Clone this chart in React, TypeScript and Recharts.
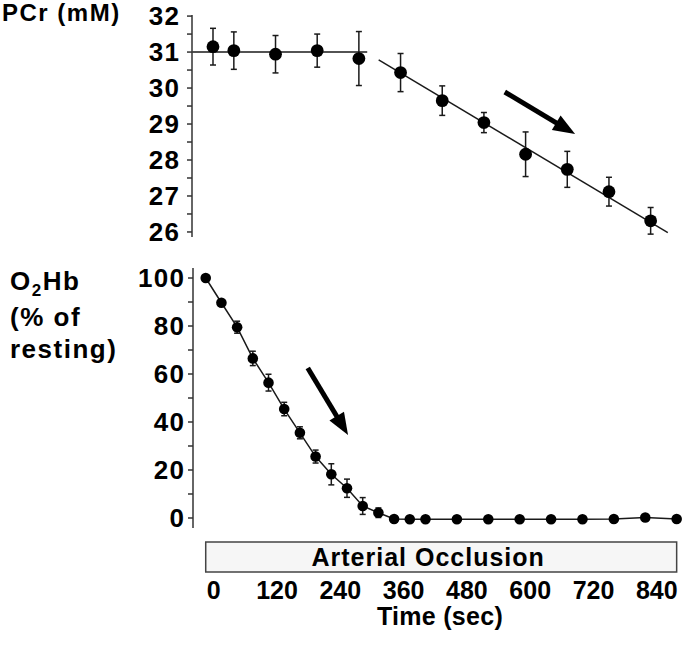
import React from 'react';
import {
  ComposedChart,
  Scatter,
  Line,
  XAxis,
  YAxis,
  ErrorBar,
  ReferenceLine,
  ReferenceArea,
} from 'recharts';

const FONT = '"Liberation Sans", Arial, Helvetica, sans-serif';
const AXIS = '#333';
const INK = '#1a1a1a';

// ---------- PCr panel (top) ----------
const pcrTimes = [0, 40, 120, 200, 280, 360, 440, 520, 600, 680, 760, 840];
const pcrValues = [31.15, 31.04, 30.94, 31.04, 30.82, 30.43, 29.65, 29.04, 28.16, 27.74, 27.12, 26.31];
const pcrErrors = [0.51, 0.52, 0.52, 0.46, 0.75, 0.53, 0.41, 0.28, 0.62, 0.5, 0.4, 0.37];
const pcrRestFitTimes = [-40, 296];
const pcrRestFitValues = [31, 31];
const pcrDeclineFitTimes = [318, 873];
const pcrDeclineFitValues = [30.78, 25.98];
const pcrTicks = [26, 26.5, 27, 27.5, 28, 28.5, 29, 29.5, 30, 30.5, 31, 31.5, 32];
const pcrArrowTimes = [560, 695];
const pcrArrowValues = [29.89, 28.72];
const PCR_X_DOMAIN: [number, number] = [-40.3, 900.2];
const PCR_Y_DOMAIN: [number, number] = [25.86, 32.03];

// ---------- O2Hb panel (bottom) ----------
const o2Times = [0, 30, 60, 90, 120, 150, 180, 210, 240, 270, 300, 330, 360, 390, 420, 480, 540, 600, 660, 720, 780, 840, 900];
const o2Values = [100, 89.7, 79.5, 66.5, 56.4, 45.4, 35.5, 25.6, 18.2, 12.4, 5.0, 2.2, -0.4, -0.5, -0.5, -0.5, -0.5, -0.5, -0.5, -0.5, -0.4, 0.2, -0.4];
const o2Errors = [0, 1, 2.5, 3, 3.5, 2.8, 2.5, 2.7, 4.4, 3.8, 3.5, 2, 0, 0, 0, 0, 0, 0, 0, 0, 0, 0, 0];
const o2Ticks = [0, 10, 20, 30, 40, 50, 60, 70, 80, 90, 100];
const o2ArrowTimes = [195, 272];
const o2ArrowValues = [62.5, 34.6];
const O2_X_DOMAIN: [number, number] = [-24.3, 910.2];
const O2_Y_DOMAIN: [number, number] = [-4.17, 104.17];
const timeTicks = [0, 120, 240, 360, 480, 600, 720, 840];
const TIME_LABEL_DOMAIN: [number, number] = [-39.2, 887.7];
const occlusionStart = 0;
const occlusionEnd = 900;
const occlusionBandValues = [-10, -22.5];

const pcrData = pcrTimes.map((t, i) => ({ t, v: pcrValues[i], e: pcrErrors[i] }));
const pcrRestFit = pcrRestFitTimes.map((t, i) => ({ t, v: pcrRestFitValues[i] }));
const pcrDeclineFit = pcrDeclineFitTimes.map((t, i) => ({ t, v: pcrDeclineFitValues[i] }));
const o2Data = o2Times.map((t, i) => ({ t, v: o2Values[i], e: o2Errors[i] }));

const Arrow = (props: any) => {
  const { x1, y1, x2, y2 } = props;
  const dx = x2 - x1;
  const dy = y2 - y1;
  const len = Math.hypot(dx, dy) || 1;
  const ux = dx / len;
  const uy = dy / len;
  const head = 22;
  const half = 8.5;
  const bx = x2 - ux * head;
  const by = y2 - uy * head;
  return (
    <g>
      <line x1={x1} y1={y1} x2={bx + ux * 3} y2={by + uy * 3} stroke="#000" strokeWidth={5} />
      <polygon
        points={`${x2},${y2} ${bx - uy * half},${by + ux * half} ${bx + uy * half},${by - ux * half}`}
        fill="#000"
      />
    </g>
  );
};

const labelStyle: React.CSSProperties = {
  fontFamily: FONT,
  fontWeight: 700,
  fontSize: 25,
  fill: '#000',
};

const yLabelStyle: React.CSSProperties = {
  ...labelStyle,
  fontSize: 26,
  letterSpacing: 1.3,
};

const PcrTick = (props: any) => {
  const { x, y, payload } = props;
  if (!Number.isInteger(payload.value)) return <g />;
  return (
    <text x={x + 1.3} y={y} dy={9.2} textAnchor="end" style={yLabelStyle}>
      {payload.value}
    </text>
  );
};

const O2Tick = (props: any) => {
  const { x, y, payload } = props;
  if (payload.value % 20 !== 0) return <g />;
  return (
    <text x={x + 1.3} y={y} dy={9.2} textAnchor="end" style={yLabelStyle}>
      {payload.value}
    </text>
  );
};

const TimeTick = (props: any) => {
  const { x, y, payload } = props;
  return (
    <text x={x} y={y} dy={41} textAnchor="middle" style={labelStyle}>
      {payload.value}
    </text>
  );
};

const Dot = (r: number) => (p: any) => <circle cx={p.cx} cy={p.cy} r={r} fill="#000" />;

const OcclusionLabel = (props: any) => {
  const vb = props.viewBox || {};
  return (
    <text
      x={vb.x + vb.width / 2 - 13}
      y={vb.y + vb.height / 2}
      dy={9}
      textAnchor="middle"
      style={{ ...labelStyle, letterSpacing: 1 }}
    >
      Arterial Occlusion
    </text>
  );
};

const titleBase: React.CSSProperties = {
  position: 'absolute',
  fontFamily: FONT,
  fontWeight: 700,
  color: '#000',
  whiteSpace: 'nowrap',
};

export default function App() {
  return (
    <div style={{ position: 'absolute', left: 0, top: 0, width: 685, height: 646, background: '#fff' }}>
      <div style={{ position: 'absolute', left: 0, top: 0 }}>
        <ComposedChart width={685} height={250} margin={{ top: 15, right: 3, bottom: 13, left: 0 }}>
          <XAxis dataKey="t" type="number" domain={PCR_X_DOMAIN} hide allowDataOverflow />
          <YAxis
            type="number"
            domain={PCR_Y_DOMAIN}
            ticks={pcrTicks}
            interval={0}
            width={192}
            tickSize={5}
            tickMargin={8}
            allowDataOverflow
            axisLine={{ stroke: AXIS, strokeWidth: 1.5 }}
            tickLine={{ stroke: AXIS, strokeWidth: 1.5 }}
            tick={<PcrTick />}
          />
          <Line data={pcrRestFit} dataKey="v" stroke={INK} strokeWidth={1.5} dot={false} isAnimationActive={false} />
          <Line data={pcrDeclineFit} dataKey="v" stroke={INK} strokeWidth={1.5} dot={false} isAnimationActive={false} />
          <Scatter data={pcrData} dataKey="v" shape={Dot(6.4)} isAnimationActive={false}>
            <ErrorBar dataKey="e" direction="y" width={3} stroke={INK} strokeWidth={1.5} isAnimationActive={false} />
          </Scatter>
          <ReferenceLine
            segment={[
              { x: pcrArrowTimes[0], y: pcrArrowValues[0] },
              { x: pcrArrowTimes[1], y: pcrArrowValues[1] },
            ]}
            ifOverflow="visible"
            shape={Arrow}
          />
        </ComposedChart>
      </div>

      <div style={{ position: 'absolute', left: 0, top: 250 }}>
        <ComposedChart width={685} height={396} margin={{ top: 18, right: 3, bottom: 0, left: 0 }}>
          <XAxis xAxisId="data" dataKey="t" type="number" domain={O2_X_DOMAIN} hide allowDataOverflow />
          <XAxis
            xAxisId="lab"
            dataKey="t"
            type="number"
            domain={TIME_LABEL_DOMAIN}
            ticks={timeTicks}
            interval={0}
            height={118}
            axisLine={false}
            tickLine={false}
            tickSize={0}
            tickMargin={0}
            allowDataOverflow
            tick={<TimeTick />}
          />
          <YAxis
            type="number"
            domain={O2_Y_DOMAIN}
            ticks={o2Ticks}
            interval={0}
            width={193}
            tickSize={5}
            tickMargin={4}
            allowDataOverflow
            axisLine={{ stroke: AXIS, strokeWidth: 1.5 }}
            tickLine={{ stroke: AXIS, strokeWidth: 1.5 }}
            tick={<O2Tick />}
          />
          <ReferenceArea
            xAxisId="data"
            x1={occlusionStart}
            x2={occlusionEnd}
            y1={occlusionBandValues[0]}
            y2={occlusionBandValues[1]}
            ifOverflow="visible"
            fill="#f6f6f6"
            fillOpacity={1}
            stroke="#444"
            strokeWidth={1.5}
            label={<OcclusionLabel />}
          />
          <Line xAxisId="data" data={o2Data} dataKey="v" stroke={INK} strokeWidth={1.5} dot={false} isAnimationActive={false} />
          <Scatter xAxisId="data" data={o2Data} dataKey="v" shape={Dot(5.3)} isAnimationActive={false}>
            <ErrorBar dataKey="e" direction="y" width={3} stroke={INK} strokeWidth={1.5} isAnimationActive={false} />
          </Scatter>
          <ReferenceLine
            xAxisId="data"
            segment={[
              { x: o2ArrowTimes[0], y: o2ArrowValues[0] },
              { x: o2ArrowTimes[1], y: o2ArrowValues[1] },
            ]}
            ifOverflow="visible"
            shape={Arrow}
          />
        </ComposedChart>
      </div>

      <div style={{ ...titleBase, left: 2, top: 0, fontSize: 24, lineHeight: '25px', letterSpacing: 1.5 }}>PCr (mM)</div>
      <div style={{ ...titleBase, left: 10, top: 265, fontSize: 26, lineHeight: '32px', letterSpacing: 1.5 }}>
        <div>
          O<span style={{ fontSize: 17, position: 'relative', top: 6 }}>2</span>Hb
        </div>
        <div>(% of</div>
        <div>resting)</div>
      </div>
      <div style={{ ...titleBase, left: 340, top: 606, width: 200, textAlign: 'center', fontSize: 25, lineHeight: '20px', letterSpacing: 0.3 }}>
        Time (sec)
      </div>
    </div>
  );
}
